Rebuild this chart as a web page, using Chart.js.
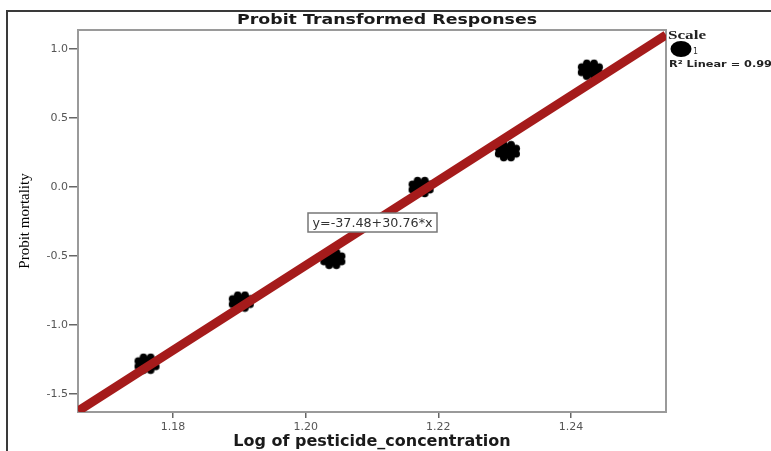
<!DOCTYPE html>
<html>
<head>
<meta charset="utf-8">
<script src="https://cdn.jsdelivr.net/npm/chart.js@4.4.1/dist/chart.umd.min.js"></script>
<style>
html, body { margin: 0; padding: 0; background: #fff; }
</style>
</head>
<body>
<canvas id="chart" width="771" height="451"></canvas>
<script>
// data
var logConc = [1.1761, 1.1903, 1.2041, 1.2174, 1.2304, 1.2429];
var probit = [-1.28, -0.83, -0.52, 0.0, 0.26, 0.85];
var xTicks = [1.18, 1.20, 1.22, 1.24];
var yTicks = [-1.5, -1.0, -0.5, 0.0, 0.5, 1.0];
var fitIntercept = -37.48;
var fitSlope = 30.76;
var xMin = 1.1657, xMax = 1.2543;
var yMin = -1.63, yMax = 1.138;

var titleText = 'Probit Transformed Responses';
var eqText = 'y=-37.48+30.76*x';

var points = logConc.map((x, i) => ({ x: x, y: probit[i] }));
var fitLine = [xMin, xMax].map(x => ({ x: x, y: fitIntercept + fitSlope * x }));

// black blobby marker like the SPSS one
function blob(w, h) {
	var c = document.createElement('canvas');
	c.width = w; c.height = h;
	var g = c.getContext('2d');
	var cx = w / 2, cy = h / 2;
	var rx = w / 2 - 3.5, ry = h / 2 - 3.5;
	g.fillStyle = '#000';
	g.beginPath();
	g.ellipse(cx, cy, rx, ry, 0, 0, Math.PI * 2);
	g.fill();
	for (var k = 0; k < 8; k++) {
		var a = k / 8 * Math.PI * 2 + 0.4;
		g.beginPath();
		g.arc(cx + Math.cos(a) * (rx - 0.5), cy + Math.sin(a) * (ry - 0.5), 3.8, 0, Math.PI * 2);
		g.fill();
	}
	return c;
}
var marker = blob(27, 22);

// draw text squeezed/stretched to a given width
function wideText(ctx, text, x, y, width, font, color, align) {
	ctx.save();
	ctx.font = font;
	ctx.fillStyle = color;
	ctx.textBaseline = 'alphabetic';
	var w = ctx.measureText(text).width;
	var sx = width / w;
	var left = align === 'center' ? x - width / 2 : x;
	ctx.translate(left, y);
	ctx.scale(sx, 1);
	ctx.textAlign = 'left';
	ctx.fillText(text, 0, 0);
	ctx.restore();
}

var decor = {
	id: 'decor',
	beforeDraw(chart) {
		var ctx = chart.ctx;
		ctx.save();
		ctx.strokeStyle = '#3a3a3a';
		ctx.lineWidth = 2;
		ctx.strokeRect(7, 11, 900, 900);
		ctx.restore();
	},
	beforeDatasetsDraw(chart) {
		var a = chart.chartArea, ctx = chart.ctx;
		ctx.save();
		ctx.strokeStyle = '#9a9a9a';
		ctx.lineWidth = 2;
		ctx.strokeRect(a.left, a.top, a.right - a.left, a.bottom - a.top);
		ctx.restore();
	},
	afterDraw(chart) {
		var a = chart.chartArea, ctx = chart.ctx;
		// title
		wideText(ctx, titleText, 387, 24, 300, 'bold 14px "DejaVu Sans"', '#1a1a1a', 'center');

		// equation box
		var bx = a.left + 230, by = a.top + 183;
		ctx.save();
		ctx.fillStyle = '#fff';
		ctx.fillRect(bx, by, 129, 19);
		ctx.strokeStyle = '#777';
		ctx.lineWidth = 1.5;
		ctx.strokeRect(bx, by, 129, 19);
		ctx.restore();
		wideText(ctx, eqText, bx + 64.5, by + 14, 120, '12px "DejaVu Sans"', '#333', 'center');

		// legend
		var lx = a.right + 2;
		wideText(ctx, 'Scale', lx, 39, 38, 'bold 12px "Liberation Serif"', '#222', 'left');
		ctx.save();
		ctx.fillStyle = '#000';
		ctx.beginPath();
		ctx.ellipse(lx + 13, 49, 10.5, 8, 0, 0, Math.PI * 2);
		ctx.fill();
		ctx.restore();
		wideText(ctx, '1', lx + 25, 54, 5, '9px "DejaVu Sans"', '#333', 'left');
		wideText(ctx, 'R\u00b2 Linear = 0.99', lx + 1, 67, 103, 'bold 9px "DejaVu Sans"', '#222', 'left');
	}
};

var ctx = document.getElementById('chart').getContext('2d');
var mychart = new Chart(ctx, {
	type: 'scatter',
	data: {
		datasets: [{
			label: 'fit',
			type: 'line',
			data: fitLine,
			borderColor: '#a51b1b',
			borderWidth: 9,
			pointRadius: 0,
			showLine: true,
			clip: 0,
			order: 0
		}, {
			label: '1',
			data: points,
			pointStyle: marker,
			pointRadius: 12,
			backgroundColor: '#000',
			borderColor: '#000',
			clip: false,
			order: 1
		}]
	},
	options: {
		responsive: false,
		animation: false,
		layout: { padding: { top: 30, right: 105, left: 0, bottom: 0 } },
		plugins: {
			legend: { display: false },
			title: { display: false },
			tooltip: { enabled: false }
		},
		scales: {
			x: {
				type: 'linear',
				min: xMin,
				max: xMax,
				afterBuildTicks: (s) => { s.ticks = xTicks.map(v => ({ value: v })); },
				afterFit: (s) => { s.height = 39; },
				ticks: {
					callback: (v) => v.toFixed(2),
					color: '#555',
					font: { family: '"DejaVu Sans"', size: 11 },
					padding: 3,
					maxRotation: 0
				},
				grid: { drawOnChartArea: false, tickLength: 6, color: '#666', lineWidth: 1.5 },
				border: { display: false },
				title: {
					display: true,
					text: 'Log of pesticide_concentration',
					color: '#1a1a1a',
					font: { family: '"DejaVu Sans"', size: 16, weight: 'bold' },
					padding: { top: 0, bottom: 0 }
				}
			},
			y: {
				type: 'linear',
				min: yMin,
				max: yMax,
				afterBuildTicks: (s) => { s.ticks = yTicks.map(v => ({ value: v })); },
				afterFit: (s) => { s.width = 78; },
				ticks: {
					callback: (v) => v.toFixed(1),
					color: '#555',
					font: { family: '"DejaVu Sans"', size: 11 },
					padding: 1
				},
				grid: { drawOnChartArea: false, tickLength: 9, color: '#666', lineWidth: 1.5 },
				border: { display: false },
				title: {
					display: true,
					text: 'Probit mortality',
					color: '#000',
					font: { family: '"Liberation Serif"', size: 15, weight: 'normal' },
					padding: { top: 16, bottom: 0 }
				}
			}
		}
	},
	plugins: [decor]
});
</script>
</body>
</html>
